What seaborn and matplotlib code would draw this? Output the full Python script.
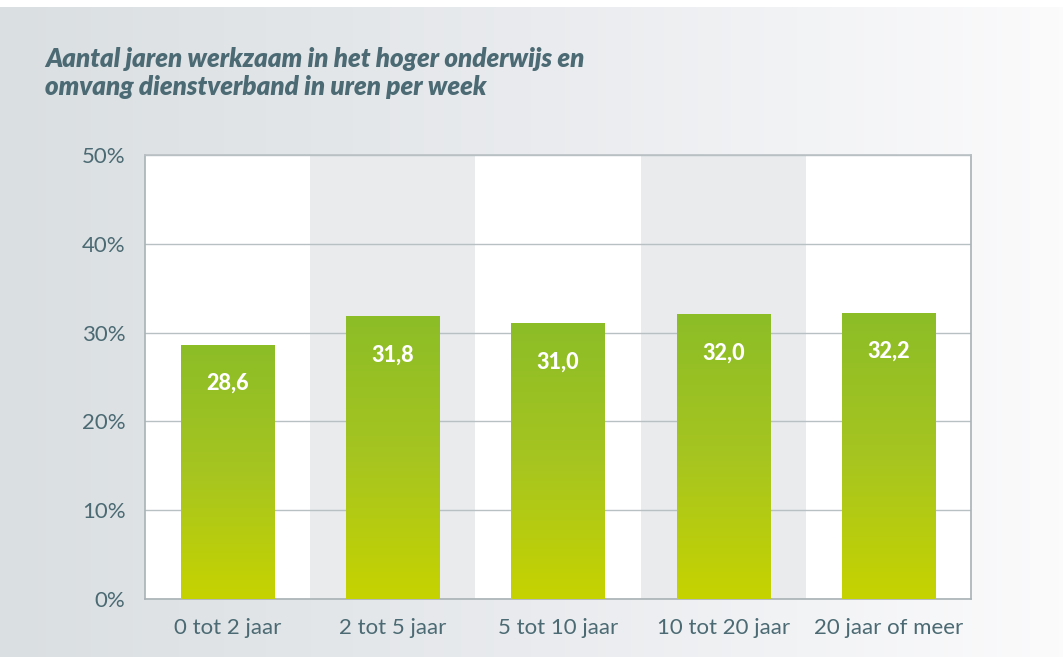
import numpy as np
import pandas as pd
import matplotlib
matplotlib.use("Agg")
import matplotlib.pyplot as plt
from matplotlib.colors import LinearSegmentedColormap
import seaborn as sns

sns.set_theme(style="white")
plt.rcParams['font.family'] = ['Lato', 'DejaVu Sans']

# data
categories = ['0 tot 2 jaar', '2 tot 5 jaar', '5 tot 10 jaar', '10 tot 20 jaar', '20 jaar of meer']
uren = [28.6, 31.8, 31.0, 32.0, 32.2]
yticks = [0, 10, 20, 30, 40, 50]

title = 'Aantal jaren werkzaam in het hoger onderwijs en\nomvang dienstverband in uren per week'
text_col = '#4b6a73'
grid_col = '#b9c0c4'

df = pd.DataFrame({'cat': categories, 'val': uren})

fig = plt.figure(figsize=(10.63, 6.57), dpi=100)
fig.patch.set_facecolor('white')

# background gradient (left grey -> right white)
bg = fig.add_axes([0, 0, 1, 1 - 7 / 657], zorder=-10)
bg_cmap = LinearSegmentedColormap.from_list('bg', ['#dadfe2', '#e9ebee', '#fbfbfc'])
bg.imshow(np.linspace(0, 1, 256).reshape(1, -1), aspect='auto', cmap=bg_cmap,
          extent=[0, 1, 0, 1])
bg.set_axis_off()

ax = fig.add_axes([145 / 1063, 1 - 599 / 657, 826 / 1063, 444 / 657])
ax.set_facecolor('white')

sns.barplot(data=df, x='cat', y='val', ax=ax, width=0.565, color='#a4c61a',
            saturation=1, zorder=3)

# alternating column shading
for i in range(len(categories)):
    if i % 2 == 1:
        ax.axvspan(i - 0.5, i + 0.5, color='#e9ebed', zorder=0, lw=0)

ax.set_xlim(-0.5, len(categories) - 0.5)
ax.set_ylim(0, 50)

# vertical gradient inside each bar
bar_cmap = LinearSegmentedColormap.from_list('bar', ['#c6d300', '#a6c520', '#8cbd27'])
grad = np.linspace(0, 1, 256).reshape(-1, 1)
for p, v in zip(ax.patches, uren):
    x0, w = p.get_x(), p.get_width()
    ax.imshow(grad, cmap=bar_cmap, aspect='auto', origin='lower',
              extent=[x0, x0 + w, 0, v], zorder=3)
    p.set_facecolor('none')
    p.set_edgecolor('none')
    ax.text(x0 + w / 2, v - 4.3, f'{v:.1f}'.replace('.', ','), ha='center', va='center',
            color='white', fontsize=15.5, fontweight='black', zorder=5)

ax.set_yticks(yticks)
ax.set_yticklabels([f'{t}%' for t in yticks])
for t in yticks:
    ax.axhline(t, color=grid_col, lw=1, zorder=2)

ax.tick_params(axis='both', length=0, labelsize=16, labelcolor=text_col)
ax.tick_params(axis='x', pad=14)
ax.tick_params(axis='y', pad=14)
ax.set_xlabel('')
ax.set_ylabel('')
for side in ['left', 'right', 'top', 'bottom']:
    ax.spines[side].set_visible(True)
    ax.spines[side].set_color('#a9b2b6')
    ax.spines[side].set_linewidth(1.2)
ax.spines['top'].set_color(grid_col)

fig.text(45 / 1063, 1 - 47 / 657, title, ha='left', va='top', fontsize=18.6,
         fontweight='heavy', fontstyle='italic', color=text_col, linespacing=1.2)

fig.savefig('out.png', dpi=100)
